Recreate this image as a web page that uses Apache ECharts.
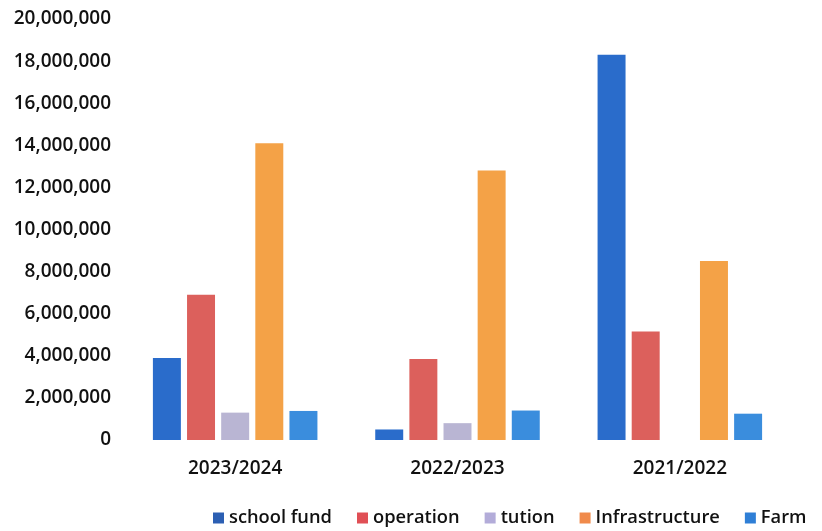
<!DOCTYPE html>
<html>
<head>
<meta charset="utf-8">
<script src="https://cdn.jsdelivr.net/npm/echarts@6/dist/echarts.min.js"></script>
<style>
  html, body { margin: 0; padding: 0; background: #fff; }
  #chart { width: 822px; height: 531px; }
</style>
</head>
<body>
<div id="chart"></div>
<script>
var years = ['2023/2024', '2022/2023', '2021/2022'];
var schoolFund = [3900000, 500000, 18300000];
var operation = [6900000, 3850000, 5150000];
var tution = [1300000, 800000, 0];
var infrastructure = [14100000, 12800000, 8500000];
var farm = [1380000, 1400000, 1250000];

var seriesNames = ['school fund', 'operation', 'tution', 'Infrastructure', 'Farm'];
var seriesData = [schoolFund, operation, tution, infrastructure, farm];
var barColors = ['#2a6ccb', '#dc605c', '#b9b5d3', '#f4a247', '#3a8ddd'];
var legendColors = ['#2c5fb3', '#e04f55', '#b3acd9', '#f08a4b', '#2f7fd6'];

var chart = echarts.init(document.getElementById('chart'));

var series = [];
for (var i = 0; i < seriesNames.length; i++) {
    series.push({
        name: seriesNames[i],
        type: 'bar',
        data: seriesData[i],
        barGap: '22%',
        barCategoryGap: '26%',
        itemStyle: { color: barColors[i] }
    });
}

chart.setOption({
    animation: false,
    textStyle: { fontFamily: 'Open Sans' },
    legend: {
        bottom: 4,
        left: 213,
        padding: 0,
        itemWidth: 11,
        itemHeight: 11,
        itemGap: 25,
        icon: 'rect',
        textStyle: { fontSize: 18.3, color: '#111', fontWeight: 600 },
        data: seriesNames.map(function (n, i) {
            return { name: n, itemStyle: { color: legendColors[i] } };
        })
    },
    grid: {
        left: 124,
        right: 31,
        top: 19,
        bottom: 91
    },
    xAxis: {
        type: 'category',
        data: years,
        axisLine: { show: false },
        axisTick: { show: false },
        axisLabel: { fontSize: 19, color: '#111', fontWeight: 600, margin: 19 }
    },
    yAxis: {
        type: 'value',
        min: 0,
        max: 20000000,
        interval: 2000000,
        splitLine: { show: false },
        axisLine: { show: false },
        axisTick: { show: false },
        axisLabel: {
            fontSize: 19,
            color: '#111',
            fontWeight: 600,
            margin: 13,
            formatter: function (v) { return v.toLocaleString('en-US'); }
        }
    },
    series: series
});
</script>
</body>
</html>
